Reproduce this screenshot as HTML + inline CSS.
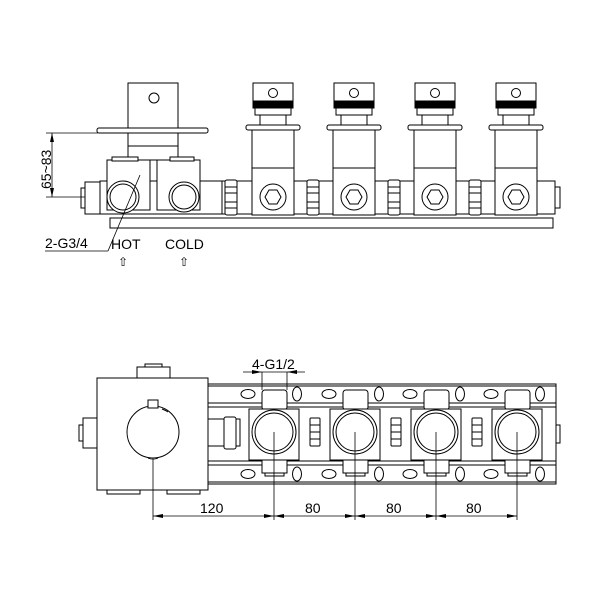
<!DOCTYPE html>
<html><head><meta charset="utf-8"><style>
html,body{margin:0;padding:0;background:#fff}
svg{display:block}
text{font-family:"Liberation Sans",sans-serif;fill:#000}
</style></head><body>
<svg width="600" height="600" viewBox="0 0 600 600" xmlns="http://www.w3.org/2000/svg">
<defs>
<g id="outlet" fill="#fff" stroke="#000" stroke-width="1">
  <rect x="-20" y="83" width="40" height="20"/>
  <circle cx="0" cy="93" r="4.5"/>
  <rect x="-20" y="101" width="40" height="7" fill="#000"/>
  <rect x="-18" y="108" width="36" height="7"/>
  <rect x="-13" y="115" width="26" height="10"/>
  <rect x="-27" y="125" width="54" height="5" rx="2"/>
  <rect x="-21" y="130" width="42" height="85"/>
  <line x1="-21" y1="168" x2="21" y2="168"/>
  <circle cx="0" cy="197" r="13"/>
  <polygon points="8,197 4,204 -4,204 -8,197 -4,190 4,190"/>
</g>
<g id="nut" fill="#fff" stroke="#000" stroke-width="1">
  <rect x="-6" y="180" width="12" height="35" rx="2"/>
  <line x1="-6" y1="187" x2="6" y2="187"/><line x1="-6" y1="193" x2="6" y2="193"/>
  <line x1="-6" y1="202" x2="6" y2="202"/><line x1="-6" y1="208" x2="6" y2="208"/>
</g>
<g id="bout" fill="#fff" stroke="#000" stroke-width="1">
  <rect x="-12" y="390" width="25" height="20" rx="3"/>
  <rect x="-12" y="460" width="25" height="13"/>
  <rect x="-9" y="473" width="19" height="3"/>
  <rect x="-25" y="409" width="50" height="51"/>
  <circle cx="0" cy="432" r="22"/>
  <circle cx="0" cy="432" r="19"/>
  <line x1="0" y1="432" x2="0" y2="520" stroke-width="0.8"/>
</g>
<g id="bnut" fill="#fff" stroke="#000" stroke-width="1">
  <rect x="-5" y="418" width="10" height="28" rx="1"/>
  <line x1="-5" y1="425" x2="5" y2="425"/><line x1="-5" y1="432" x2="5" y2="432"/><line x1="-5" y1="439" x2="5" y2="439"/>
</g>
</defs>

<!-- TOP VIEW -->
<g fill="#fff" stroke="#000" stroke-width="1">
  <rect x="110" y="218" width="443" height="10"/>
  <rect x="85" y="182" width="22" height="32"/>
  <rect x="81" y="188" width="4" height="20"/>
  <rect x="100" y="181" width="455" height="33"/>
  <rect x="555" y="187" width="5" height="21"/>
  <rect x="128" y="83" width="50" height="45"/>
  <circle cx="154" cy="98" r="5"/>
  <rect x="97" y="128" width="111" height="5" rx="2"/>
  <rect x="128" y="133" width="50" height="27"/>
  <line x1="128" y1="146" x2="178" y2="146"/>
  <rect x="107" y="160" width="43" height="50"/>
  <rect x="157" y="160" width="43" height="50"/>
  <rect x="112" y="157" width="26" height="4"/>
  <rect x="170" y="157" width="24" height="4"/>
  <circle cx="123" cy="197" r="16"/>
  <circle cx="123" cy="197" r="13"/>
  <circle cx="184" cy="197" r="15"/>
  <circle cx="184" cy="197" r="12"/>
  <rect x="222" y="181" width="4" height="33"/>
</g>
<use href="#nut" x="231"/>
<use href="#nut" x="313"/>
<use href="#nut" x="394"/>
<use href="#nut" x="475"/>
<use href="#outlet" x="273"/>
<use href="#outlet" x="354"/>
<use href="#outlet" x="435"/>
<use href="#outlet" x="516"/>

<!-- dims top -->
<g stroke="#000" stroke-width="0.8" fill="none">
  <line x1="46" y1="133" x2="98" y2="133"/>
  <line x1="46" y1="197" x2="85" y2="197"/>
  <line x1="52" y1="133" x2="52" y2="197"/>
  <line x1="45" y1="251" x2="108" y2="251"/>
  <line x1="108" y1="251" x2="140" y2="175"/>
</g>
<polygon points="52,133 50,142 54,142" fill="#000"/>
<polygon points="52,197 50,188 54,188" fill="#000"/>
<text x="0" y="0" font-size="14" transform="translate(51,189) rotate(-90)">65~83</text>
<text x="45" y="248" font-size="14">2-G3/4</text>
<text x="111" y="249" font-size="14">HOT</text>
<text x="165" y="249" font-size="14">COLD</text>
<text x="118" y="266" font-size="12">⇧</text>
<text x="179" y="266" font-size="12">⇧</text>

<!-- BOTTOM VIEW -->
<g fill="#fff" stroke="#000" stroke-width="1">
  <rect x="205" y="384" width="351" height="100"/>
  <line x1="205" y1="386" x2="556" y2="386"/>
  <line x1="205" y1="403" x2="556" y2="403"/>
  <line x1="205" y1="407" x2="556" y2="407"/>
  <line x1="205" y1="461" x2="556" y2="461"/>
  <line x1="205" y1="465" x2="556" y2="465"/>
  <line x1="205" y1="482" x2="556" y2="482"/>
  <rect x="556" y="425" width="4" height="18"/>
  <rect x="208" y="419" width="32" height="27"/>
  <rect x="224" y="417" width="12" height="32" rx="2"/>
</g>
<g fill="#fff" stroke="#000" stroke-width="1">
  <ellipse cx="248" cy="394" rx="7" ry="4.5"/><ellipse cx="297" cy="394" rx="4.5" ry="7"/>
  <ellipse cx="329" cy="394" rx="7" ry="4.5"/><ellipse cx="379" cy="394" rx="4.5" ry="7"/>
  <ellipse cx="410" cy="394" rx="7" ry="4.5"/><ellipse cx="460" cy="394" rx="4.5" ry="7"/>
  <ellipse cx="491" cy="394" rx="7" ry="4.5"/><ellipse cx="540" cy="394" rx="4.5" ry="7"/>
  <ellipse cx="248" cy="474" rx="7" ry="4.5"/><ellipse cx="297" cy="474" rx="4.5" ry="7"/>
  <ellipse cx="329" cy="474" rx="7" ry="4.5"/><ellipse cx="379" cy="474" rx="4.5" ry="7"/>
  <ellipse cx="410" cy="474" rx="7" ry="4.5"/><ellipse cx="460" cy="474" rx="4.5" ry="7"/>
  <ellipse cx="491" cy="474" rx="7" ry="4.5"/><ellipse cx="540" cy="474" rx="4.5" ry="7"/>
</g>
<use href="#bnut" x="315"/>
<use href="#bnut" x="396"/>
<use href="#bnut" x="477"/>
<use href="#bout" x="274"/>
<use href="#bout" x="355"/>
<use href="#bout" x="436"/>
<use href="#bout" x="517"/>
<g fill="#fff" stroke="#000" stroke-width="1">
  <rect x="137" y="367" width="33" height="12"/>
  <rect x="145" y="364" width="17" height="3"/>
  <rect x="107" y="488" width="33" height="6"/>
  <rect x="167" y="488" width="33" height="6"/>
  <rect x="97" y="378" width="111" height="112"/>
  <rect x="83" y="418" width="14" height="30"/>
  <rect x="79" y="425" width="4" height="16"/>
  <circle cx="153" cy="432" r="26"/>
  <rect x="148" y="400" width="10" height="8"/>
  <path d="M162,409 A26,26 0 0 1 168,412"/>
  <path d="M148,458 A8,4 0 0 0 158,458"/>
  <line x1="153" y1="458" x2="153" y2="520" stroke-width="0.8"/>
</g>
<g stroke="#000" stroke-width="0.8">
  <line x1="153" y1="516" x2="517" y2="516"/>
  <line x1="243" y1="372" x2="305" y2="372"/>
  <line x1="262" y1="372" x2="262" y2="390"/>
  <line x1="287" y1="372" x2="287" y2="390"/>
</g>
<g fill="#000">
  <polygon points="153,516 163,514 163,518"/>
  <polygon points="274,516 264,514 264,518"/><polygon points="274,516 284,514 284,518"/>
  <polygon points="355,516 345,514 345,518"/><polygon points="355,516 365,514 365,518"/>
  <polygon points="436,516 426,514 426,518"/><polygon points="436,516 446,514 446,518"/>
  <polygon points="517,516 507,514 507,518"/>
  <polygon points="262,372 252,370 252,374"/>
  <polygon points="287,372 297,370 297,374"/>
</g>
<text x="200" y="513" font-size="14">120</text>
<text x="305" y="513" font-size="14">80</text>
<text x="386" y="513" font-size="14">80</text>
<text x="466" y="513" font-size="14">80</text>
<text x="252" y="369" font-size="14">4-G1/2</text>
</svg>
</body></html>
